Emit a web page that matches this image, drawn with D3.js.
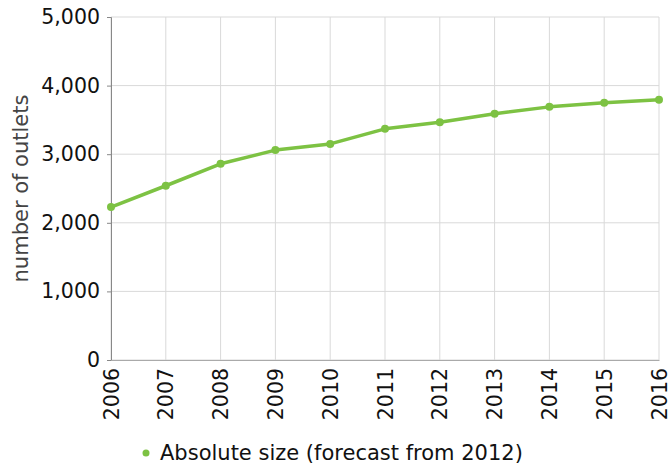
<!DOCTYPE html>
<html>
<head>
<meta charset="utf-8">
<script src="https://cdn.jsdelivr.net/npm/d3@7"></script>
<style>
  body { margin: 0; background: #fff; }
  text { font-family: "DejaVu Sans", Verdana, sans-serif; }
</style>
</head>
<body>
<div id="chart"></div>
<script>
// data
const years = [2006, 2007, 2008, 2009, 2010, 2011, 2012, 2013, 2014, 2015, 2016];
const outlets = [2230, 2540, 2860, 3060, 3150, 3370, 3465, 3590, 3690, 3750, 3795];
const yTicks = [0, 1000, 2000, 3000, 4000, 5000];
const seriesName = "Absolute size (forecast from 2012)";

const width = 672, height = 467;
const margin = {top: 17, right: 13, bottom: 107, left: 111};
const green = "#7dc243";

const svg = d3.select("#chart").append("svg")
    .attr("width", width)
    .attr("height", height);

const x = d3.scalePoint()
    .domain(years)
    .range([margin.left, width - margin.right]);

const y = d3.scaleLinear()
    .domain([0, 5000])
    .range([height - margin.bottom, margin.top]);

// grid
svg.append("g")
    .selectAll("line")
    .data(yTicks)
    .join("line")
    .attr("x1", margin.left)
    .attr("x2", width - margin.right)
    .attr("y1", d => y(d))
    .attr("y2", d => y(d))
    .attr("stroke", "#d9d9d9")
    .attr("stroke-width", 1);

svg.append("g")
    .selectAll("line")
    .data(years)
    .join("line")
    .attr("x1", d => x(d))
    .attr("x2", d => x(d))
    .attr("y1", margin.top)
    .attr("y2", height - margin.bottom)
    .attr("stroke", "#d9d9d9")
    .attr("stroke-width", 1);

// y axis
const yAxis = svg.append("g")
    .attr("transform", `translate(${margin.left},0)`)
    .call(d3.axisLeft(y).tickValues(yTicks).tickSize(4).tickPadding(7).tickFormat(d3.format(",")));
yAxis.select(".domain").attr("stroke", "#888");
yAxis.selectAll(".tick line").attr("stroke", "#888");
yAxis.selectAll("text").attr("font-size", 20.5).attr("fill", "#111");

// x axis
const xAxis = svg.append("g")
    .attr("transform", `translate(0,${height - margin.bottom})`)
    .call(d3.axisBottom(x).tickSize(0).tickPadding(0).tickFormat(d3.format("d")));
xAxis.select(".domain").attr("stroke", "#aaa");
xAxis.selectAll("text")
    .attr("font-size", 20.5)
    .attr("fill", "#111")
    .attr("text-anchor", "end")
    .attr("transform", "rotate(-90)")
    .attr("x", -8)
    .attr("y", 0)
    .attr("dy", "0.35em");

// y title
svg.append("text")
    .attr("transform", `translate(28,${(margin.top + height - margin.bottom) / 2}) rotate(-90)`)
    .attr("text-anchor", "middle")
    .attr("font-size", 21)
    .attr("fill", "#444")
    .text("number of outlets");

// line
const line = d3.line()
    .x((d, i) => x(years[i]))
    .y(d => y(d));

svg.append("path")
    .datum(outlets)
    .attr("d", line)
    .attr("fill", "none")
    .attr("stroke", green)
    .attr("stroke-width", 3.5)
    .attr("stroke-linejoin", "round");

svg.append("g")
    .selectAll("circle")
    .data(outlets)
    .join("circle")
    .attr("cx", (d, i) => x(years[i]))
    .attr("cy", d => y(d))
    .attr("r", 4)
    .attr("fill", green);

// legend
const legend = svg.append("g").attr("transform", "translate(146,453)");
legend.append("circle")
    .attr("r", 3.5)
    .attr("fill", green);
legend.append("text")
    .attr("x", 14)
    .attr("dy", "0.35em")
    .attr("font-size", 21)
    .attr("fill", "#111")
    .text(seriesName);
</script>
</body>
</html>
